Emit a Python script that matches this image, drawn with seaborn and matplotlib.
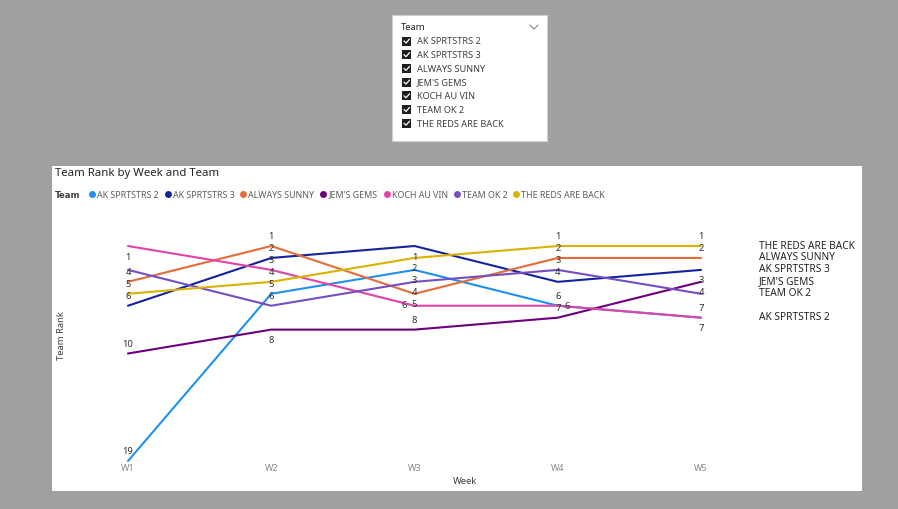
import numpy as np
import pandas as pd
import matplotlib.pyplot as plt
from matplotlib.patches import Rectangle
from matplotlib.lines import Line2D
import seaborn as sns

weeks = ["W1", "W2", "W3", "W4", "W5"]
teams = ["AK SPRTSTRS 2", "AK SPRTSTRS 3", "ALWAYS SUNNY", "JEM'S GEMS",
         "KOCH AU VIN", "TEAM OK 2", "THE REDS ARE BACK"]
ak_sprtstrs_2 = [19, 5, 3, 6, 7]
ak_sprtstrs_3 = [6, 2, 1, 4, 3]
always_sunny = [4, 1, 5, 2, 2]
jems_gems = [10, 8, 8, 7, 4]
koch_au_vin = [1, 3, 6, 6, 7]
team_ok_2 = [3, 6, 4, 3, 5]
reds_are_back = [5, 4, 2, 1, 1]
ranks = [ak_sprtstrs_2, ak_sprtstrs_3, always_sunny, jems_gems,
         koch_au_vin, team_ok_2, reds_are_back]

# where Power BI put each data label (a=above, b=below, l=left, r=right, None=hidden)
label_side = {
    "AK SPRTSTRS 2": ["a", "a", "b", "a", "a"],
    "AK SPRTSTRS 3": ["a", "a", "b", "a", "b"],
    "ALWAYS SUNNY": ["a", "a", "b", "a", "a"],
    "JEM'S GEMS": ["a", "b", "a", "a", "b"],
    "KOCH AU VIN": ["b", "a", "l", "r", "b"],
    "TEAM OK 2": [None, "a", "b", "a", None],
    "THE REDS ARE BACK": ["a", "a", "b", "a", "a"],
}
# end-of-line series names (KOCH AU VIN is hidden behind AK SPRTSTRS 2)
end_labels = ["THE REDS ARE BACK", "ALWAYS SUNNY", "AK SPRTSTRS 3",
              "JEM'S GEMS", "TEAM OK 2", "AK SPRTSTRS 2"]

colors = ["#1E90F0", "#12239E", "#E66C37", "#6B007B", "#E044A7", "#744EC2", "#D9B300"]
palette = dict(zip(teams, colors))

rows = []
for team, vals in zip(teams, ranks):
    for w, r in zip(weeks, vals):
        rows.append({"Week": w, "Team": team, "Rank": r})
df = pd.DataFrame(rows)

sns.set_style("white")
plt.rcParams['font.family'] = ['Noto Sans', 'DejaVu Sans']

W, H = 898, 509
fig = plt.figure(figsize=(W / 100, H / 100), dpi=100)
fig.patch.set_facecolor("#A0A0A0")


def fx(x):
    return x / W


def fy(y):
    return 1 - y / H


# report panels (behind the axes)
fig.patches.append(Rectangle((fx(392), fy(141)), 155 / W, 126 / H, transform=fig.transFigure,
                             facecolor="white", edgecolor="#D0D0D0", lw=0.8, zorder=-10))
fig.patches.append(Rectangle((fx(52), fy(491)), 810 / W, 325 / H, transform=fig.transFigure,
                             facecolor="white", edgecolor="none", zorder=-10))

# slicer
fig.text(fx(401), fy(27), "Team", fontsize=6.8, color="#252423", va="center")
fig.lines.append(Line2D([fx(530), fx(534), fx(538)], [fy(25), fy(29), fy(25)],
                        transform=fig.transFigure, color="#888888", lw=0.8))
for i, team in enumerate(teams):
    yy = 41 + i * 13.7
    fig.patches.append(Rectangle((fx(402), fy(yy + 4.5)), 9 / W, 9 / H, transform=fig.transFigure,
                                 facecolor="#1E1E1E", edgecolor="none"))
    fig.lines.append(Line2D([fx(404), fx(406), fx(409.5)], [fy(yy), fy(yy + 2), fy(yy - 2)],
                            transform=fig.transFigure, color="white", lw=0.9))
    fig.text(fx(417), fy(yy), team, fontsize=6.6, color="#404040", va="center_baseline")

# chart
ax = fig.add_axes([fx(110), fy(463), 610 / W, (463 - 225) / H])
sns.lineplot(data=df, x="Week", y="Rank", hue="Team", hue_order=teams, palette=palette,
             linewidth=1.5, legend=False, ax=ax, clip_on=False)
ax.set_xlim(-18 / 143.25, 4 + 19 / 143.25)
ax.set_ylim(19 + 2 / 11.94, 1 - 21 / 11.94)
ax.set_facecolor("none")
for s in ax.spines.values():
    s.set_visible(False)
ax.set_yticks([])
ax.tick_params(axis="x", length=0, pad=1, labelsize=6.5, labelcolor="#8A8A8A")
ax.set_xlabel("")
ax.set_ylabel("")

offsets = {"a": (0, 9.5), "b": (0, -11), "l": (-10, 0), "r": (9, -1)}
for team, vals in zip(teams, ranks):
    for i, r in enumerate(vals):
        side = label_side[team][i]
        if side is None:
            continue
        ax.annotate(str(r), (i, r), xytext=offsets[side], textcoords="offset pixels",
                    ha="center", va="center", fontsize=6.8, color="#303030")

for name in end_labels:
    last = ranks[teams.index(name)][-1]
    ax.annotate(name, (4, last), xytext=(58, 0), textcoords="offset pixels",
                ha="left", va="center", fontsize=7.3, color="#252423", annotation_clip=False)

fig.text(fx(55), fy(173), "Team Rank by Week and Team", fontsize=8.2, color="#252423", va="center")
fig.text(fx(465), fy(482), "Week", fontsize=6.8, color="#404040", ha="center", va="center")
fig.text(fx(62), fy(336), "Team Rank", fontsize=6.8, color="#404040", ha="center", va="center",
         rotation=90)

# legend row
renderer = fig.canvas.get_renderer()
t = fig.text(fx(55), fy(194), "Team", fontsize=6.2, fontweight="bold", color="#404040",
             family="DejaVu Sans", va="center_baseline")
x = 55 + t.get_window_extent(renderer).width + 8
for team, c in zip(teams, colors):
    fig.lines.append(Line2D([fx(x + 3.5)], [fy(194)], transform=fig.transFigure, marker="o",
                            markersize=5, color=c, markeredgewidth=0, linestyle="none"))
    tt = fig.text(fx(x + 8.5), fy(194), team, fontsize=6.4, color="#605E5C", va="center_baseline")
    x = x + 8.5 + tt.get_window_extent(renderer).width + 5.5

fig.savefig("out.png", dpi=100, facecolor=fig.get_facecolor())
